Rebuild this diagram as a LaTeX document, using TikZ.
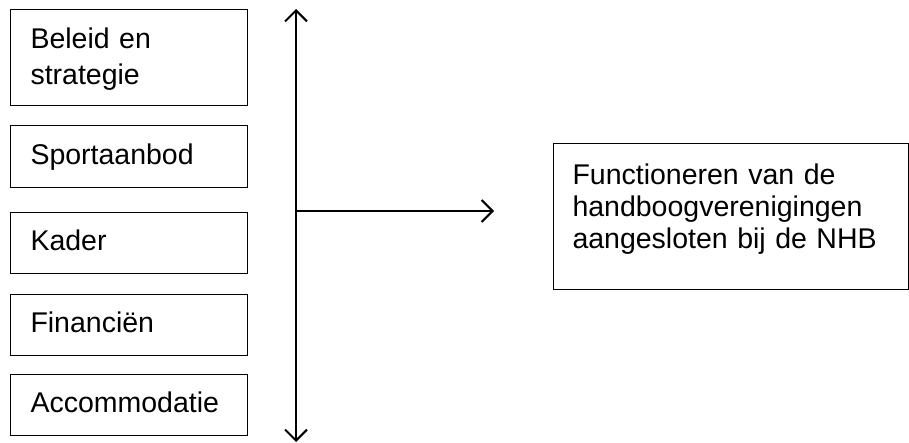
\documentclass[tikz,border=0pt]{standalone}
\usepackage{fontspec}
\setmainfont{Liberation Sans}
\usetikzlibrary{arrows.meta,positioning}
\tikzset{
    factor/.style={draw,line width=1pt,anchor=north west,text width=197pt,inner xsep=20pt,inner ysep=0pt,align=left,minimum height=#1,text height=21pt,text depth=5.5pt,font=\fontsize{28.5}{36}\selectfont},
    outcome/.style={draw,line width=1pt,anchor=north west,text width=317pt,inner xsep=19pt,inner ysep=0pt,align=left,minimum height=146pt,text height=21pt,text depth=85pt,font=\fontsize{28.5}{32}\selectfont},
    axis/.style={line width=2pt,{Straight Barb[length=11pt,width=22pt,line width=2pt]}-{Straight Barb[length=11pt,width=22pt,line width=2pt]}},
    effect/.style={line width=2pt,-{Straight Barb[length=11pt,width=22pt,line width=2pt]}}
}
\def\boxh{61pt}

\begin{document}
\begin{tikzpicture}[x=1pt,y=-1pt]
  \useasboundingbox (0,0) rectangle (909,443);

  % Factors
  \node[factor=96pt,text depth=39pt] (beleid) at (10,9) {Beleid en\\strategie};
  \node[factor=62pt] (sport) at (10,125) {Sportaanbod};
  \node[factor=\boxh] (kader) at (10,212) {Kader};
  \node[factor=\boxh] (financien) at (10,294) {Financiën};
  \node[factor=\boxh] (accommodatie) at (10,374) {Accommodatie};

  % Axis
  \coordinate (top) at (296,9);
  \coordinate (bottom) at (296,442);
  \coordinate (join) at (296,211);
  \coordinate (tip) at (494,211);
  \draw[axis] (bottom) -- (top);
  \draw[effect] (join) -- (tip);

  % Outcome
  \node[outcome] (functioneren) at (553,143) {Functioneren van de\\handboogverenigingen\\aangesloten bij de NHB};
\end{tikzpicture}
\end{document}
